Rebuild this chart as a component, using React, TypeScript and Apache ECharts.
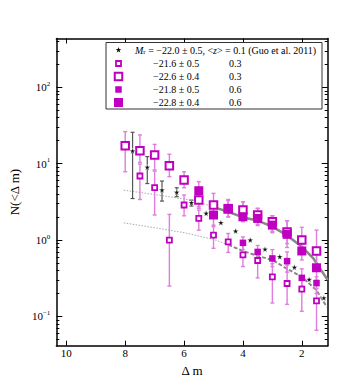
import React, { useEffect, useRef } from 'react';
import * as echarts from 'echarts';

// ---- axis ticks ----
const xTicks = [2, 4, 6, 8, 10];
const yMajor = [0.1, 1, 10, 100];
const yMinor = [0.05, 0.06, 0.07, 0.08, 0.09, 0.2, 0.3, 0.4, 0.5, 0.6, 0.7, 0.8, 0.9,
  2, 3, 4, 5, 6, 7, 8, 9, 20, 30, 40, 50, 60, 70, 80, 90, 200, 300, 400];

// ---- Guo et al. 2011 (stars) ----
const starX = [7.75, 7.25, 6.75, 6.25, 5.75, 5.25, 4.75, 4.25, 3.75, 3.25, 2.75, 2.25, 1.75, 1.25];
const starY = [14.7, 8.97, 4.52, 4.22, 3.08, 2.24, 1.69, 1.31, 1.0, 0.76, 0.605, 0.44, 0.305, 0.175];
const starLo = [3.5, 5.5, 3.24, 3.7, 2.79, null, null, null, null, null, null, null, null, null];
const starHi = [25.8, 12.4, 5.93, 4.84, 3.34, null, null, null, null, null, null, null, null, null];

// ---- -21.6 +- 0.5, z 0.3 (small open squares) ----
const soX = [7.5, 7.0, 6.5, 6.0, 5.5, 5.0, 4.5, 4.0, 3.5, 3.0, 2.5, 2.0, 1.5];
const soY = [6.9, 4.85, 1.0, 2.88, 1.92, 1.16, 0.95, 0.64, 0.54, 0.33, 0.27, 0.228, 0.16];
const soLo = [3.4, 2.13, 0.25, 2.08, 1.35, 0.78, 0.69, 0.45, 0.32, 0.15, 0.144, 0.117, 0.066];
const soHi = [9.9, 8.0, 2.17, 3.89, 2.47, 1.57, 1.22, 0.85, 0.75, 0.49, 0.47, 0.3, 0.233];

// ---- -22.6 +- 0.4, z 0.3 (big open squares) ----
const boX = [8.0, 7.5, 7.0, 6.5, 6.0, 5.5, 5.0, 4.5, 4.0, 3.5, 3.0, 2.5, 2.0, 1.5];
const boY = [17.2, 14.8, 13.0, 9.4, 6.1, 3.34, 2.88, 2.55, 2.47, 2.13, 1.74, 1.28, 1.0, 0.72];
const boLo = [7.85, 10.4, 8.3, 6.76, 4.84, 2.6, 2.2, 2.0, 1.9, 1.6, 1.3, 0.9, 0.7, 0.45];
const boHi = [26.3, 23.8, 17.9, 13.3, 7.85, 4.4, 4.09, 3.3, 3.18, 2.6, 2.08, 1.79, 1.47, 1.35];

// ---- -21.8 +- 0.5, z 0.6 (small filled squares) ----
const sfX = [4.0, 3.5, 3.0, 2.5, 2.0, 1.5];
const sfY = [0.92, 0.7, 0.575, 0.53, 0.32, 0.273];
const sfLo = [0.75, 0.55, 0.45, 0.38, 0.25, 0.2];
const sfHi = [1.1, 0.85, 0.75, 0.7, 0.42, 0.33];

// ---- -22.8 +- 0.4, z 0.6 (big filled squares) ----
const bfX = [5.5, 5.0, 4.5, 4.0, 3.5, 3.0, 2.5, 2.0, 1.5];
const bfY = [4.43, 2.13, 2.6, 2.02, 1.92, 1.57, 1.19, 0.72, 0.434];
const bfLo = [2.73, 1.5, 2.02, 1.74, 1.55, 1.25, 0.8, 0.55, 0.3];
const bfHi = [5.8, 2.9, 3.4, 3.18, 2.6, 2.08, 1.79, 1.0, 0.72];

// ---- model curves ----
const upDotX = [8.05, 7.0, 6.0, 5.5, 5.0];
const upDotY = [4.5, 3.95, 3.45, 3.15, 2.7];
const upSolidX = [5.0, 4.5, 4.0, 3.5, 3.0, 2.5, 2.0, 1.6, 1.12];
const upSolidY = [2.7, 2.35, 1.98, 1.8, 1.5, 1.15, 0.82, 0.57, 0.3];
const lowDotX = [8.05, 7.0, 6.0, 5.0, 4.5];
const lowDotY = [1.68, 1.45, 1.25, 1.02, 0.87];
const lowDashX = [4.5, 4.0, 3.5, 3.0, 2.5, 2.0, 1.5, 1.15];
const lowDashY = [0.87, 0.72, 0.62, 0.55, 0.42, 0.33, 0.22, 0.133];

const MAG = '#C000C0';
const ERR = '#DE7EDE';
const SERIF = '"Liberation Serif", "DejaVu Serif", serif';
const STAR = 'path://M0,-10L2.35,-3.24L9.51,-3.09L3.8,1.24L5.88,8.09L0,4L-5.88,8.09L-3.8,1.24L-9.51,-3.09L-2.35,-3.24Z';

const pairs = (xs: number[], ys: number[]) => xs.map((x, i) => [x, ys[i]]);
const errRows = (xs: number[], lo: (number | null)[], hi: (number | null)[]) =>
  xs.map((x, i) => [x, lo[i], hi[i]]).filter((d) => d[1] != null && d[2] != null);

function errSeries(data: any[], color: string, lw: number, cap: number) {
  return {
    type: 'custom',
    data,
    encode: { x: 0, y: [1, 2] },
    silent: true,
    z: 3,
    renderItem: (params: any, api: any) => {
      const x = api.value(0);
      const a = api.coord([x, api.value(2)]);
      const b = api.coord([x, api.value(1)]);
      const st = { stroke: color, lineWidth: lw };
      return {
        type: 'group',
        children: [
          { type: 'line', shape: { x1: a[0], y1: a[1], x2: b[0], y2: b[1] }, style: st },
          { type: 'line', shape: { x1: a[0] - cap, y1: a[1], x2: a[0] + cap, y2: a[1] }, style: st },
          { type: 'line', shape: { x1: b[0] - cap, y1: b[1], x2: b[0] + cap, y2: b[1] }, style: st },
        ],
      };
    },
  };
}

function starPoly(cx: number, cy: number, r: number) {
  const pts: number[][] = [];
  for (let k = 0; k < 10; k++) {
    const ang = -Math.PI / 2 + (k * Math.PI) / 5;
    const rr = k % 2 === 0 ? r : r * 0.4;
    pts.push([cx + rr * Math.cos(ang), cy + rr * Math.sin(ang)]);
  }
  return pts;
}

export default function App() {
  const ref = useRef<HTMLDivElement>(null);
  useEffect(() => {
    if (!ref.current) return;
    const chart = echarts.init(ref.current, null, { renderer: 'svg' });
    const yBase = { type: 'log', logBase: 10, min: 0.0414, max: 436, splitLine: { show: false } };
    const xBase = { type: 'value', inverse: true, min: 1.12, max: 10.34, splitLine: { show: false } };
    const axLine = { show: true, lineStyle: { color: '#000', width: 1.5 } };
    const legX = 118.5;
    const rows = [50, 63.5, 76.5, 89.5, 102.5];
    const txtStyle = { fontFamily: SERIF, fontSize: 10, fill: '#000' };
    const option: any = {
      animation: false,
      backgroundColor: '#fff',
      grid: { left: 45, right: 36.3, top: 38.5, bottom: 39.3, containLabel: false },
      xAxis: [
        {
          ...xBase,
          position: 'bottom',
          axisLine: axLine,
          axisTick: { show: true, customValues: xTicks, inside: true, length: 5, lineStyle: { color: '#000' } },
          axisLabel: { customValues: xTicks, color: '#000', fontFamily: SERIF, fontSize: 11, margin: 2 },
          name: 'Δ m',
          nameLocation: 'middle',
          nameGap: 10,
          nameTextStyle: { fontFamily: SERIF, fontSize: 13, color: '#000' },
        },
        {
          ...xBase,
          position: 'top',
          axisLine: axLine,
          axisTick: { show: true, customValues: xTicks, inside: true, length: 5, lineStyle: { color: '#000' } },
          axisLabel: { show: false },
        },
      ],
      yAxis: [
        {
          ...yBase,
          position: 'left',
          axisLine: axLine,
          axisTick: { show: true, customValues: yMajor, inside: true, length: 6, lineStyle: { color: '#000' } },
          axisLabel: {
            customValues: yMajor,
            margin: 6,
            color: '#000',
            formatter: (v: number) => {
              const e = Math.round(Math.log10(v));
              return '{b|10}{s|' + (e < 0 ? '−' + -e : String(e)) + '}';
            },
            rich: {
              b: { fontFamily: SERIF, fontSize: 11, color: '#000' },
              s: { fontFamily: SERIF, fontSize: 7, color: '#000', padding: [0, 0, 7, 0] },
            },
          },
          name: 'N(<Δ m)',
          nameLocation: 'middle',
          nameGap: 24,
          nameRotate: 90,
          nameTextStyle: { fontFamily: SERIF, fontSize: 13, color: '#000' },
        },
        {
          ...yBase,
          position: 'right',
          axisLine: axLine,
          axisTick: { show: true, customValues: yMajor, inside: true, length: 6, lineStyle: { color: '#000' } },
          axisLabel: { show: false },
        },
        {
          ...yBase,
          position: 'left',
          axisLine: { show: false },
          axisTick: { show: true, customValues: yMinor, inside: true, length: 3, lineStyle: { color: '#000' } },
          axisLabel: { show: false },
        },
        {
          ...yBase,
          position: 'right',
          axisLine: { show: false },
          axisTick: { show: true, customValues: yMinor, inside: true, length: 3, lineStyle: { color: '#000' } },
          axisLabel: { show: false },
        },
      ],
      series: [
        { type: 'line', data: pairs(upDotX, upDotY), symbol: 'none', z: 1, lineStyle: { color: '#aaa', width: 1, type: [1.5, 1.5] } },
        { type: 'line', data: pairs(lowDotX, lowDotY), symbol: 'none', z: 1, lineStyle: { color: '#aaa', width: 1, type: [1.5, 1.5] } },
        { type: 'line', data: pairs(upSolidX, upSolidY), symbol: 'none', z: 1, lineStyle: { color: '#888', width: 2.5 } },
        { type: 'line', data: pairs(lowDashX, lowDashY), symbol: 'none', z: 1, lineStyle: { color: '#888', width: 2, type: [4, 2] } },
        errSeries(errRows(starX, starLo, starHi), '#555', 1.2, 2),
        errSeries(errRows(soX, soLo, soHi), ERR, 1.4, 2),
        errSeries(errRows(boX, boLo, boHi), ERR, 1.4, 2),
        errSeries(errRows(sfX, sfLo, sfHi), ERR, 1.4, 2),
        errSeries(errRows(bfX, bfLo, bfHi), ERR, 1.4, 2),
        { type: 'scatter', data: pairs(soX, soY), symbol: 'rect', symbolSize: 5, z: 4,
          itemStyle: { color: '#fff', borderColor: MAG, borderWidth: 1.8, opacity: 1 } },
        { type: 'scatter', data: pairs(boX, boY), symbol: 'rect', symbolSize: 7.5, z: 4,
          itemStyle: { color: '#fff', borderColor: MAG, borderWidth: 2, opacity: 1 } },
        { type: 'scatter', data: pairs(sfX, sfY), symbol: 'rect', symbolSize: 6.5, z: 4,
          itemStyle: { color: MAG, opacity: 1 } },
        { type: 'scatter', data: pairs(bfX, bfY), symbol: 'rect', symbolSize: 9, z: 4,
          itemStyle: { color: MAG, opacity: 1 } },
        { type: 'scatter', data: pairs(starX, starY), symbol: STAR, symbolSize: 6, z: 5,
          itemStyle: { color: '#111', borderColor: '#fff', borderWidth: 0.4, opacity: 1 } },
      ],
      graphic: [
        { type: 'rect', shape: { x: 106, y: 42.5, width: 216, height: 66.5 }, style: { fill: '#fff', stroke: '#333', lineWidth: 1 }, z: 10 },
        { type: 'polygon', shape: { points: starPoly(legX, rows[0], 3) }, style: { fill: '#111' }, z: 11 },
        { type: 'rect', shape: { x: legX - 2.5, y: rows[1] - 2.5, width: 5, height: 5 }, style: { fill: '#fff', stroke: MAG, lineWidth: 1.8 }, z: 11 },
        { type: 'rect', shape: { x: legX - 3.75, y: rows[2] - 3.75, width: 7.5, height: 7.5 }, style: { fill: '#fff', stroke: MAG, lineWidth: 2 }, z: 11 },
        { type: 'rect', shape: { x: legX - 3.25, y: rows[3] - 3.25, width: 6.5, height: 6.5 }, style: { fill: MAG }, z: 11 },
        { type: 'rect', shape: { x: legX - 4.5, y: rows[4] - 4.5, width: 9, height: 9 }, style: { fill: MAG }, z: 11 },
        {
          type: 'text', x: 135, y: rows[0], z: 11,
          style: {
            text: '{i|M}{sub|r} = −22.0 ± 0.5, <{i|z}> = 0.1 (Guo et al. 2011)',
            ...txtStyle, verticalAlign: 'middle',
            rich: {
              i: { fontFamily: SERIF, fontSize: 10, fontStyle: 'italic' },
              sub: { fontFamily: SERIF, fontSize: 7, padding: [4, 0, 0, 0] },
            },
          },
        },
        { type: 'text', x: 153, y: rows[1], z: 11, style: { text: '−21.6 ± 0.5', ...txtStyle, verticalAlign: 'middle' } },
        { type: 'text', x: 153, y: rows[2], z: 11, style: { text: '−22.6 ± 0.4', ...txtStyle, verticalAlign: 'middle' } },
        { type: 'text', x: 153, y: rows[3], z: 11, style: { text: '−21.8 ± 0.5', ...txtStyle, verticalAlign: 'middle' } },
        { type: 'text', x: 153, y: rows[4], z: 11, style: { text: '−22.8 ± 0.4', ...txtStyle, verticalAlign: 'middle' } },
        { type: 'text', x: 229, y: rows[1], z: 11, style: { text: '0.3', ...txtStyle, verticalAlign: 'middle' } },
        { type: 'text', x: 229, y: rows[2], z: 11, style: { text: '0.3', ...txtStyle, verticalAlign: 'middle' } },
        { type: 'text', x: 229, y: rows[3], z: 11, style: { text: '0.6', ...txtStyle, verticalAlign: 'middle' } },
        { type: 'text', x: 229, y: rows[4], z: 11, style: { text: '0.6', ...txtStyle, verticalAlign: 'middle' } },
      ],
    };
    chart.setOption(option);
    return () => chart.dispose();
  }, []);
  return <div ref={ref} style={{ position: 'fixed', left: 0, top: 0, width: 364, height: 385, background: '#fff' }} />;
}
